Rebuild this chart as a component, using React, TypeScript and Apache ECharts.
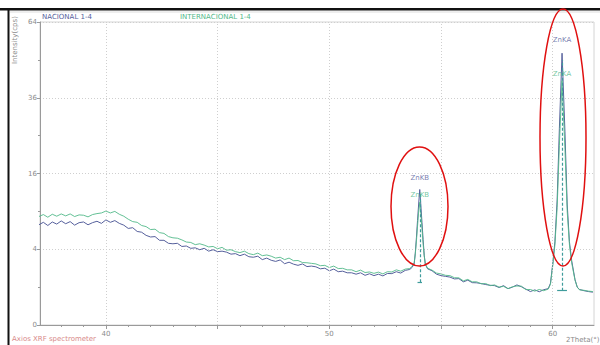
import React, { useEffect, useRef } from "react";
import * as echarts from "echarts";

// 2Theta positions (degrees)
const twoTheta = [
  37.0, 37.2, 37.4, 37.6, 37.8, 38.0, 38.2, 38.4, 38.6, 38.8,
  39.0, 39.2, 39.4, 39.6, 39.8, 40.0, 40.2, 40.4, 40.6, 40.8,
  41.0, 41.2, 41.4, 41.6, 41.8, 42.0, 42.2, 42.4, 42.6, 42.8,
  43.0, 43.2, 43.4, 43.6, 43.8, 44.0, 44.2, 44.4, 44.6, 44.8,
  45.0, 45.2, 45.4, 45.6, 45.8, 46.0, 46.2, 46.4, 46.6, 46.8,
  47.0, 47.2, 47.4, 47.6, 47.8, 48.0, 48.2, 48.4, 48.6, 48.8,
  49.0, 49.2, 49.4, 49.6, 49.8, 50.0, 50.2, 50.4, 50.6, 50.8,
  51.0, 51.2, 51.4, 51.6, 51.8, 52.0, 52.2, 52.4, 52.6, 52.8,
  53.0, 53.2, 53.4, 53.6,
  53.7, 53.8, 53.85, 53.9, 53.95, 54.0, 54.05, 54.1, 54.15, 54.2, 54.25, 54.3, 54.4,
  54.6, 54.8, 55.0, 55.2, 55.4, 55.6, 55.8, 56.0, 56.2, 56.4,
  56.6, 56.8, 57.0, 57.2, 57.4, 57.6, 57.8, 58.0, 58.2, 58.4,
  58.6, 58.8, 59.0, 59.2, 59.4, 59.6,
  59.8, 59.9, 60.0, 60.1, 60.2, 60.3, 60.42, 60.55, 60.65, 60.75, 60.85, 61.0, 61.1, 61.2,
  61.4, 61.6, 61.8,
];

// Intensity (cps) - NACIONAL 1-4
const nacional = [
  7.0, 7.35, 6.9, 7.4, 7.1, 7.55, 7.15, 7.45, 6.95, 7.3,
  7.4, 7.0, 7.3, 7.5, 7.2, 7.7, 7.35, 7.6, 7.2, 6.95,
  6.5, 6.6, 6.1, 6.0, 5.6, 5.4, 5.45, 5.0, 5.0, 4.65,
  4.6, 4.65, 4.3, 4.35, 4.1, 4.15, 3.95, 4.1, 3.8, 3.95,
  3.75, 3.8, 3.7, 3.5, 3.55, 3.35, 3.5, 3.25, 3.2, 3.3,
  2.98, 3.12, 2.92, 2.82, 2.95, 2.62, 2.75, 2.58, 2.48, 2.6,
  2.38, 2.42, 2.36, 2.2, 2.25, 2.05, 2.18, 1.98, 2.02, 1.9,
  1.9, 1.8, 1.9, 1.72, 1.83, 1.7, 1.8, 1.68, 1.85, 1.84,
  1.98, 1.88, 2.08, 2.15,
  2.3, 2.6, 3.6, 5.3, 7.6, 10.2, 12.8, 9.9, 7.3, 5.1, 3.4, 2.56, 2.2,
  2.05, 1.8, 1.7, 1.65, 1.6, 1.48, 1.5, 1.3, 1.4, 1.25,
  1.24, 1.2, 1.14, 1.1, 1.08, 0.98, 1.08, 0.92, 1.0, 1.12,
  1.02, 0.9, 0.78, 0.86, 0.77, 0.87,
  0.92, 1.21, 2.56, 4.84, 10.9, 27, 51.5, 26, 10.2, 4.84, 2.9, 1.44, 1.0, 0.88,
  0.82, 0.78, 0.75,
];

// Intensity (cps) - INTERNACIONAL 1-4
const internacional = [
  8.2, 8.5, 8.1, 8.55, 8.25, 8.6, 8.3, 8.6, 8.2, 8.45,
  8.4, 8.15, 8.5, 8.65, 8.75, 9.05, 8.75, 9.0, 8.55, 8.25,
  7.8, 7.45, 7.35, 6.9, 6.75, 6.35, 6.4, 5.95, 5.85, 5.45,
  5.3, 5.25, 5.05, 4.8, 4.75, 4.5, 4.6, 4.45, 4.25, 4.3,
  4.05, 4.2, 3.9, 3.95, 3.75, 3.65, 3.8, 3.55, 3.45, 3.6,
  3.35, 3.42, 3.3, 3.12, 3.2, 2.98, 3.12, 2.88, 2.9, 2.72,
  2.7, 2.65, 2.6, 2.45, 2.48, 2.3, 2.42, 2.22, 2.24, 2.12,
  2.12, 1.98, 2.1, 1.92, 1.96, 1.86, 1.95, 1.82, 1.98, 1.96,
  2.12, 2.02, 2.18, 2.22,
  2.4, 2.7, 3.5, 4.9, 6.8, 8.9, 10.5, 8.6, 6.5, 4.6, 3.3, 2.6, 2.25,
  2.1, 1.88, 1.82, 1.72, 1.7, 1.56, 1.55, 1.36, 1.45, 1.3,
  1.3, 1.18, 1.2, 1.08, 1.12, 1.0, 1.04, 0.92, 1.02, 1.06,
  1.05, 0.87, 0.88, 0.8, 0.88, 0.82,
  0.9, 1.15, 2.4, 4.5, 9.6, 22.5, 41.6, 21.5, 9.0, 4.5, 2.7, 1.4, 1.0, 0.86,
  0.84, 0.8, 0.78,
];

// Line markers: [position, bottom cps, top cps]
const lineNames = ["ZnKB", "ZnKA"];
const linePos = [54.05, 60.42];
const lineBottom = [1.28, 0.82];
const lineTop = [12.25, 49];
const lineBarHalf = [0.1, 0.22];
// Label heights (cps)
const labelNacional = [15.0, 56.7];
const labelInternacional = [11.7, 44];

const yTicks = [0, 4, 16, 36, 64];
const xGrid = [40, 45, 50, 55, 60];
const xLabels = [40, 50, 60];
const xMinor = [38, 39, 40, 41, 42, 43, 44, 45, 46, 47, 48, 49, 50, 51, 52, 53, 54, 55, 56, 57, 58, 59, 60, 61];

const NAVY = "#56609c";
const GREEN = "#52b98a";
const TEAL = "#3f9c9c";
const FONT = "'DejaVu Sans', sans-serif";

const sq = (v: number) => Math.sqrt(v);

export default function App() {
  const ref = useRef<HTMLDivElement>(null);
  useEffect(() => {
    if (!ref.current) return;
    const chart = echarts.init(ref.current, undefined, { renderer: "svg" });

    const navyData = twoTheta.map((x, i) => [x, sq(nacional[i])]);
    const greenData = twoTheta.map((x, i) => [x, sq(internacional[i])]);

    const markerLines: any[] = [];
    linePos.forEach((p, i) => {
      markerLines.push([
        { coord: [p, sq(lineBottom[i])] },
        { coord: [p, sq(lineTop[i])] },
      ]);
      markerLines.push([
        { coord: [p - lineBarHalf[i], sq(lineBottom[i])], lineStyle: { type: "solid" } },
        { coord: [p + lineBarHalf[i], sq(lineBottom[i])] },
      ]);
    });

    const gridLines = xGrid.map((g) => ({ xAxis: g }));

    const labelStyle = (color: string) => ({
      show: true,
      position: "inside" as const,
      formatter: (p: any) => lineNames[p.dataIndex],
      fontSize: 7,
      fontFamily: FONT,
      color,
    });

    chart.setOption({
      animation: false,
      backgroundColor: "#ffffff",
      grid: {
        left: 40,
        right: 6,
        top: 22,
        bottom: 20,
        show: true,
        borderColor: "#d4d4d4",
        borderWidth: 1,
      },
      xAxis: [
        {
          type: "value",
          min: 37.05,
          max: 61.85,
          axisLine: { show: true, lineStyle: { color: "#9a9a9a", width: 1 } },
          axisTick: { show: true, customValues: xMinor, length: 2, lineStyle: { color: "#9a9a9a" } },
          axisLabel: { show: false },
          splitLine: { show: false },
        },
        {
          type: "value",
          min: 37.05,
          max: 61.85,
          position: "bottom",
          axisLine: { show: false },
          axisTick: { show: true, customValues: xGrid, length: 4, lineStyle: { color: "#9a9a9a" } },
          axisLabel: {
            show: true,
            customValues: xLabels,
            fontSize: 7,
            color: "#8a8a8a",
            fontFamily: FONT,
            margin: 5,
          },
          splitLine: { show: false },
        },
      ],
      yAxis: {
        type: "value",
        min: 0,
        max: 8,
        interval: 2,
        axisLine: { show: true, lineStyle: { color: "#9a9a9a", width: 1 } },
        axisTick: { show: true, length: 3, lineStyle: { color: "#9a9a9a" } },
        minorTick: { show: true, splitNumber: 2, length: 2, lineStyle: { color: "#9a9a9a" } },
        axisLabel: {
          fontSize: 7,
          color: "#8a8a8a",
          fontFamily: FONT,
          margin: 3,
          formatter: (v: number) => {
            const t = Math.round(v * v);
            return yTicks.includes(t) ? String(t) : "";
          },
        },
        splitLine: { show: true, lineStyle: { color: "#cfcfcf", type: [1, 2], width: 1 } },
      },
      series: [
        {
          type: "line",
          name: "grid",
          xAxisIndex: 0,
          data: [],
          silent: true,
          z: 1,
          markLine: {
            silent: true,
            symbol: "none",
            label: { show: false },
            lineStyle: { color: "#cfcfcf", type: [1, 2], width: 1 },
            data: gridLines,
          },
        },
        {
          type: "line",
          name: "NACIONAL 1-4",
          xAxisIndex: 0,
          data: navyData,
          showSymbol: false,
          symbol: "none",
          lineStyle: { color: NAVY, width: 1 },
          z: 3,
        },
        {
          type: "line",
          name: "INTERNACIONAL 1-4",
          xAxisIndex: 0,
          data: greenData,
          showSymbol: false,
          symbol: "none",
          lineStyle: { color: GREEN, width: 1, opacity: 0.9 },
          z: 4,
          markLine: {
            silent: true,
            symbol: "none",
            label: { show: false },
            lineStyle: { color: TEAL, type: [3, 2], width: 1.2 },
            data: markerLines,
          },
        },
        {
          type: "scatter",
          xAxisIndex: 0,
          data: linePos.map((p, i) => [p, sq(labelNacional[i])]),
          symbolSize: 0,
          label: labelStyle(NAVY),
          silent: true,
          z: 5,
        },
        {
          type: "scatter",
          xAxisIndex: 0,
          data: linePos.map((p, i) => [p, sq(labelInternacional[i])]),
          symbolSize: 0,
          label: labelStyle(GREEN),
          silent: true,
          z: 5,
        },
      ],
      graphic: [
        { type: "rect", shape: { x: 0, y: 8, width: 600, height: 2.5 }, style: { fill: "#111" }, silent: true },
        { type: "rect", shape: { x: 7.5, y: 8, width: 2, height: 340 }, style: { fill: "#111" }, silent: true },
        { type: "line", shape: { x1: 10, y1: 12, x2: 600, y2: 12 }, style: { stroke: "#dddddd", lineWidth: 1 }, silent: true },
        {
          type: "text",
          x: 42,
          y: 13,
          style: { text: "NACIONAL 1-4", fontSize: 7, fill: NAVY, fontFamily: FONT },
          silent: true,
        },
        {
          type: "text",
          x: 180,
          y: 13,
          style: { text: "INTERNACIONAL 1-4", fontSize: 7, fill: GREEN, fontFamily: FONT },
          silent: true,
        },
        {
          type: "text",
          x: 11,
          y: 64,
          rotation: Math.PI / 2,
          style: { text: "Intensity(cps)", fontSize: 7, fill: "#8a8a8a", fontFamily: FONT },
          silent: true,
        },
        {
          type: "text",
          x: 12,
          y: 335,
          style: { text: "Axios XRF spectrometer", fontSize: 7, fill: "#d88a8a", fontFamily: FONT },
          silent: true,
        },
        {
          type: "text",
          x: 566,
          y: 336,
          style: { text: "2Theta(°)", fontSize: 7, fill: "#8a8a8a", fontFamily: FONT },
          silent: true,
        },
        {
          type: "ellipse",
          shape: { cx: 419.5, cy: 206.5, rx: 28.5, ry: 59.5 },
          style: { fill: "none", stroke: "#e01010", lineWidth: 1.5 },
          z: 100,
          silent: true,
        },
        {
          type: "ellipse",
          shape: { cx: 563, cy: 137.5, rx: 23, ry: 128.5 },
          style: { fill: "none", stroke: "#e01010", lineWidth: 1.5 },
          z: 100,
          silent: true,
        },
      ],
    });

    return () => chart.dispose();
  }, []);

  return (
    <div
      ref={ref}
      style={{ position: "fixed", left: 0, top: 0, width: 600, height: 345, background: "#fff" }}
    />
  );
}
